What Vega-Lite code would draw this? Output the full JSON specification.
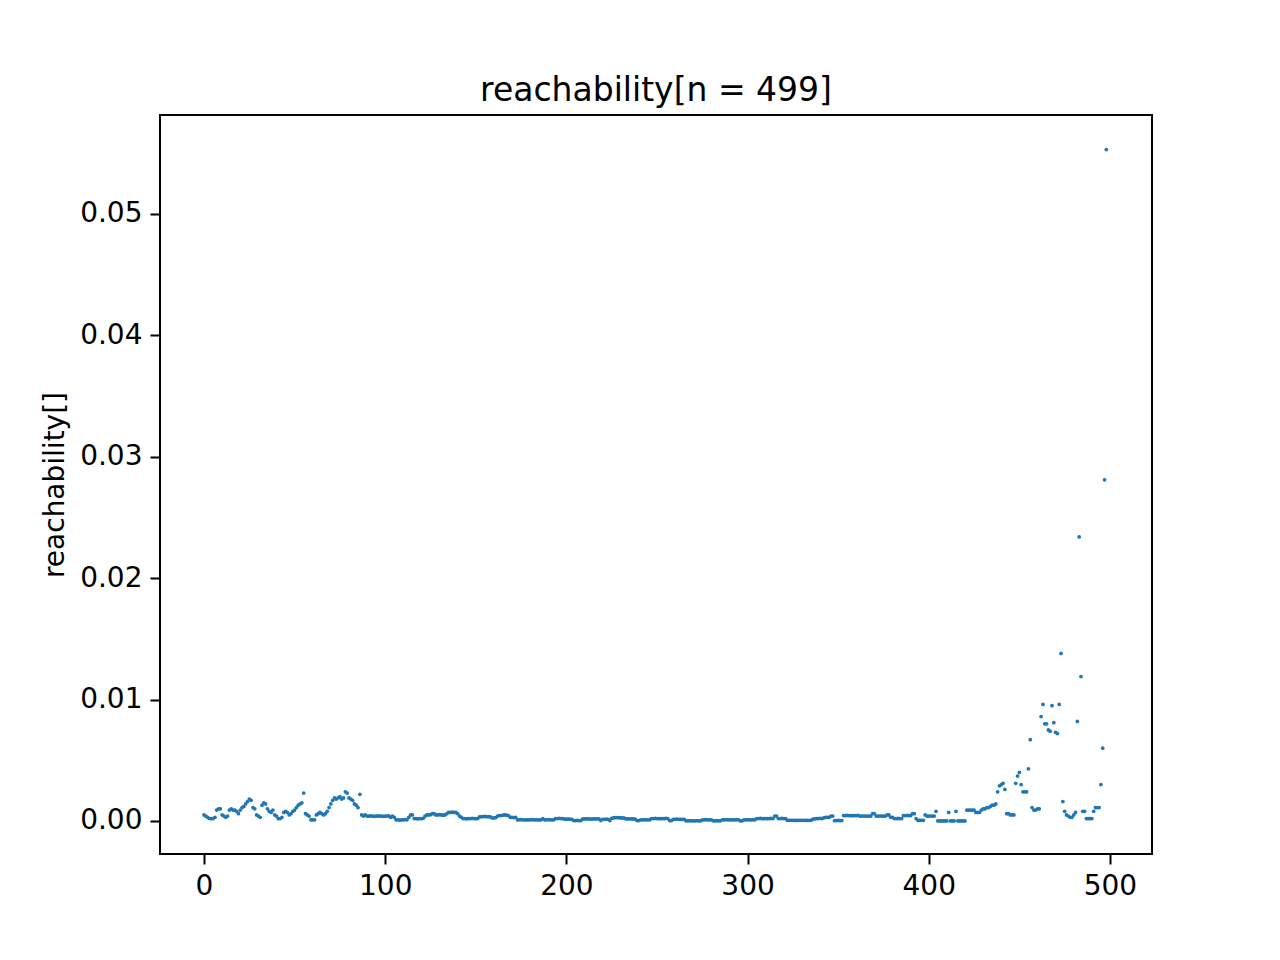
{
"$schema": "https://vega.github.io/schema/vega-lite/v6.json",
"width": 992, "height": 739,
"autosize": {"type": "none"},
"padding": {"left": 160, "top": 115, "right": 128, "bottom": 106},
"background": "white",
"title": {"text": "reachability[n = 499]", "font": "DejaVu Sans", "fontSize": 33, "fontWeight": "normal", "color": "black", "offset": 7},
"config": {"view": {"stroke": "black", "strokeWidth": 2}},
"data": {"values": [
{"x":0,"y":0.0005},{"x":1,"y":0.0004},{"x":2,"y":0.0003},{"x":3,"y":0.0002},{"x":4,"y":0.0002},{"x":5,"y":0.0002},{"x":6,"y":0.0003},{"x":7,"y":0.0009},{"x":8,"y":0.001},{"x":9,"y":0.001},
{"x":10,"y":0.0005},{"x":11,"y":0.0004},{"x":12,"y":0.0003},{"x":13,"y":0.0004},{"x":14,"y":0.0009},{"x":15,"y":0.001},{"x":16,"y":0.0009},{"x":17,"y":0.0009},{"x":18,"y":0.0008},{"x":19,"y":0.0006},
{"x":20,"y":0.0009},{"x":21,"y":0.0011},{"x":22,"y":0.0012},{"x":23,"y":0.0014},{"x":24,"y":0.0016},{"x":25,"y":0.0018},{"x":26,"y":0.0017},{"x":27,"y":0.0011},{"x":28,"y":0.001},{"x":29,"y":0.0005},
{"x":30,"y":0.0004},{"x":31,"y":0.0003},{"x":32,"y":0.0013},{"x":33,"y":0.0015},{"x":34,"y":0.0014},{"x":35,"y":0.001},{"x":36,"y":0.0008},{"x":37,"y":0.0007},{"x":38,"y":0.0009},{"x":39,"y":0.0005},
{"x":40,"y":0.0004},{"x":41,"y":0.0002},{"x":42,"y":0.0002},{"x":43,"y":0.0003},{"x":44,"y":0.0007},{"x":45,"y":0.0008},{"x":46,"y":0.0007},{"x":47,"y":0.0005},{"x":48,"y":0.0006},{"x":49,"y":0.0008},
{"x":50,"y":0.0009},{"x":51,"y":0.0011},{"x":52,"y":0.0013},{"x":53,"y":0.0014},{"x":54,"y":0.0015},{"x":55,"y":0.0023},{"x":56,"y":0.0006},{"x":57,"y":0.0005},{"x":58,"y":0.0004},{"x":59,"y":0.0001},
{"x":60,"y":0.0001},{"x":61,"y":0.0001},{"x":62,"y":0.0005},{"x":63,"y":0.0006},{"x":64,"y":0.0007},{"x":65,"y":0.0006},{"x":66,"y":0.0005},{"x":67,"y":0.0006},{"x":68,"y":0.0008},{"x":69,"y":0.0011},
{"x":70,"y":0.0014},{"x":71,"y":0.0017},{"x":72,"y":0.0019},{"x":73,"y":0.0018},{"x":74,"y":0.0019},{"x":75,"y":0.002},{"x":76,"y":0.0018},{"x":77,"y":0.0019},{"x":78,"y":0.0024},{"x":79,"y":0.0023},
{"x":80,"y":0.0019},{"x":81,"y":0.0018},{"x":82,"y":0.0017},{"x":83,"y":0.0014},{"x":84,"y":0.0013},{"x":85,"y":0.0011},{"x":86,"y":0.0022},{"x":87,"y":0.0005},{"x":88,"y":0.0004},{"x":89,"y":0.0005},
{"x":90,"y":0.0004},{"x":91,"y":0.0004},{"x":92,"y":0.00042},{"x":93,"y":0.0004},{"x":94,"y":0.00038},{"x":95,"y":0.0004},{"x":96,"y":0.00042},{"x":97,"y":0.0004},{"x":98,"y":0.0004},{"x":99,"y":0.00038},
{"x":100,"y":0.0004},{"x":101,"y":0.0004},{"x":102,"y":0.00042},{"x":103,"y":0.0003},{"x":104,"y":0.0004},{"x":105,"y":0.0003},{"x":106,"y":0.0001},{"x":107,"y":0.0001},{"x":108,"y":0.00008},{"x":109,"y":0.0001},
{"x":110,"y":0.0001},{"x":111,"y":0.00012},{"x":112,"y":0.0001},{"x":113,"y":0.0003},{"x":114,"y":0.0005},{"x":115,"y":0.0005},{"x":116,"y":0.0002},{"x":117,"y":0.0002},{"x":118,"y":0.00018},{"x":119,"y":0.0002},
{"x":120,"y":0.0002},{"x":121,"y":0.00022},{"x":122,"y":0.0004},{"x":123,"y":0.0005},{"x":124,"y":0.0005},{"x":125,"y":0.00052},{"x":126,"y":0.0006},{"x":127,"y":0.0006},{"x":128,"y":0.0005},{"x":129,"y":0.0005},
{"x":130,"y":0.00052},{"x":131,"y":0.0005},{"x":132,"y":0.00048},{"x":133,"y":0.0005},{"x":134,"y":0.0006},{"x":135,"y":0.0007},{"x":136,"y":0.0007},{"x":137,"y":0.00072},{"x":138,"y":0.0007},{"x":139,"y":0.0007},
{"x":140,"y":0.0006},{"x":141,"y":0.0004},{"x":142,"y":0.0003},{"x":143,"y":0.0002},{"x":144,"y":0.0002},{"x":145,"y":0.00018},{"x":146,"y":0.0002},{"x":147,"y":0.0002},{"x":148,"y":0.00022},{"x":149,"y":0.0002},
{"x":150,"y":0.0002},{"x":151,"y":0.0002},{"x":152,"y":0.00033},{"x":153,"y":0.00035},{"x":154,"y":0.00035},{"x":155,"y":0.00037},{"x":156,"y":0.00035},{"x":157,"y":0.00035},{"x":158,"y":0.00033},{"x":159,"y":0.00025},
{"x":160,"y":0.00025},{"x":161,"y":0.00027},{"x":162,"y":0.0004},{"x":163,"y":0.00045},{"x":164,"y":0.00045},{"x":165,"y":0.00048},{"x":166,"y":0.0005},{"x":167,"y":0.00048},{"x":168,"y":0.00045},{"x":169,"y":0.0003},
{"x":170,"y":0.0003},{"x":171,"y":0.00028},{"x":172,"y":0.0003},{"x":173,"y":0.0001},{"x":174,"y":0.0001},{"x":175,"y":0.00012},{"x":176,"y":0.0001},{"x":177,"y":0.0001},{"x":178,"y":0.00009},{"x":179,"y":0.0001},
{"x":180,"y":0.0001},{"x":181,"y":0.00012},{"x":182,"y":0.0001},{"x":183,"y":0.0001},{"x":184,"y":0.0001},{"x":185,"y":0.00009},{"x":186,"y":0.0001},{"x":187,"y":0.0002},{"x":188,"y":0.0001},{"x":189,"y":0.0001},
{"x":190,"y":0.00012},{"x":191,"y":0.0001},{"x":192,"y":0.0001},{"x":193,"y":0.0001},{"x":194,"y":0.0002},{"x":195,"y":0.0002},{"x":196,"y":0.00022},{"x":197,"y":0.0002},{"x":198,"y":0.0002},{"x":199,"y":0.00015},
{"x":200,"y":0.00015},{"x":201,"y":0.00016},{"x":202,"y":0.00015},{"x":203,"y":0.00014},{"x":204,"y":0.00003},{"x":205,"y":0.00003},{"x":206,"y":0.00004},{"x":207,"y":0.00003},{"x":208,"y":0.00003},{"x":209,"y":0.00017},
{"x":210,"y":0.00017},{"x":211,"y":0.00018},{"x":212,"y":0.00017},{"x":213,"y":0.00017},{"x":214,"y":0.00016},{"x":215,"y":0.00017},{"x":216,"y":0.00018},{"x":217,"y":0.00017},{"x":218,"y":0.00017},{"x":219,"y":0.00003},
{"x":220,"y":0.00014},{"x":221,"y":0.00014},{"x":222,"y":0.00015},{"x":223,"y":0.00014},{"x":224,"y":0.00003},{"x":225,"y":0.00022},{"x":226,"y":0.00025},{"x":227,"y":0.00027},{"x":228,"y":0.00028},{"x":229,"y":0.00027},
{"x":230,"y":0.00025},{"x":231,"y":0.00025},{"x":232,"y":0.00024},{"x":233,"y":0.00017},{"x":234,"y":0.00017},{"x":235,"y":0.00018},{"x":236,"y":0.00017},{"x":237,"y":0.00017},{"x":238,"y":0.00016},{"x":239,"y":0.00003},
{"x":240,"y":0.00003},{"x":241,"y":0.0001},{"x":242,"y":0.0001},{"x":243,"y":0.00011},{"x":244,"y":0.0001},{"x":245,"y":0.0001},{"x":246,"y":0.0001},{"x":247,"y":0.0002},{"x":248,"y":0.0002},{"x":249,"y":0.00021},
{"x":250,"y":0.0002},{"x":251,"y":0.0002},{"x":252,"y":0.00019},{"x":253,"y":0.0002},{"x":254,"y":0.0002},{"x":255,"y":0.00021},{"x":256,"y":0.0002},{"x":257,"y":0.00003},{"x":258,"y":0.00003},{"x":259,"y":0.00014},
{"x":260,"y":0.00014},{"x":261,"y":0.00015},{"x":262,"y":0.00014},{"x":263,"y":0.00014},{"x":264,"y":0.00013},{"x":265,"y":0.00014},{"x":266,"y":0.00001},{"x":267,"y":0.00001},{"x":268,"y":0.00002},{"x":269,"y":0.00001},
{"x":270,"y":0.00001},{"x":271,"y":0.00001},{"x":272,"y":0.00002},{"x":273,"y":0.00001},{"x":274,"y":0.00001},{"x":275,"y":0.0001},{"x":276,"y":0.0001},{"x":277,"y":0.00011},{"x":278,"y":0.0001},{"x":279,"y":0.0001},
{"x":280,"y":0.0001},{"x":281,"y":0.00001},{"x":282,"y":0.00001},{"x":283,"y":0.00002},{"x":284,"y":0.00001},{"x":285,"y":0.00001},{"x":286,"y":0.0001},{"x":287,"y":0.0001},{"x":288,"y":0.00011},{"x":289,"y":0.0001},
{"x":290,"y":0.0001},{"x":291,"y":0.00009},{"x":292,"y":0.0001},{"x":293,"y":0.0001},{"x":294,"y":0.00011},{"x":295,"y":0.0001},{"x":296,"y":0.00001},{"x":297,"y":0.00001},{"x":298,"y":0.0001},{"x":299,"y":0.0001},
{"x":300,"y":0.00011},{"x":301,"y":0.0001},{"x":302,"y":0.0001},{"x":303,"y":0.0001},{"x":304,"y":0.0001},{"x":305,"y":0.0002},{"x":306,"y":0.0002},{"x":307,"y":0.00021},{"x":308,"y":0.0002},{"x":309,"y":0.0002},
{"x":310,"y":0.00019},{"x":311,"y":0.0002},{"x":312,"y":0.0002},{"x":313,"y":0.00021},{"x":314,"y":0.0002},{"x":315,"y":0.0004},{"x":316,"y":0.0004},{"x":317,"y":0.0002},{"x":318,"y":0.0002},{"x":319,"y":0.00021},
{"x":320,"y":0.0002},{"x":321,"y":0.0002},{"x":322,"y":0.00005},{"x":323,"y":0.00005},{"x":324,"y":0.00006},{"x":325,"y":0.00005},{"x":326,"y":0.00005},{"x":327,"y":0.00004},{"x":328,"y":0.00005},{"x":329,"y":0.00005},
{"x":330,"y":0.00006},{"x":331,"y":0.00005},{"x":332,"y":0.00005},{"x":333,"y":0.00004},{"x":334,"y":0.00005},{"x":335,"y":0.00005},{"x":336,"y":0.00015},{"x":337,"y":0.00017},{"x":338,"y":0.0002},{"x":339,"y":0.0002},
{"x":340,"y":0.00022},{"x":341,"y":0.0002},{"x":342,"y":0.00025},{"x":343,"y":0.0003},{"x":344,"y":0.0003},{"x":345,"y":0.0003},{"x":346,"y":0.0004},{"x":347,"y":0.0004},{"x":348,"y":0.00003},{"x":349,"y":0.00003},
{"x":350,"y":0.00004},{"x":351,"y":0.00003},{"x":352,"y":0.00003},{"x":353,"y":0.00045},{"x":354,"y":0.00045},{"x":355,"y":0.00046},{"x":356,"y":0.00045},{"x":357,"y":0.00045},{"x":358,"y":0.00044},{"x":359,"y":0.00045},
{"x":360,"y":0.00045},{"x":361,"y":0.00046},{"x":362,"y":0.0004},{"x":363,"y":0.0004},{"x":364,"y":0.00041},{"x":365,"y":0.0004},{"x":366,"y":0.0004},{"x":367,"y":0.00039},{"x":368,"y":0.0004},{"x":369,"y":0.0006},
{"x":370,"y":0.0006},{"x":371,"y":0.0004},{"x":372,"y":0.0004},{"x":373,"y":0.00041},{"x":374,"y":0.0004},{"x":375,"y":0.0004},{"x":376,"y":0.0004},{"x":377,"y":0.0005},{"x":378,"y":0.0005},{"x":379,"y":0.0003},
{"x":380,"y":0.0003},{"x":381,"y":0.0002},{"x":382,"y":0.0002},{"x":383,"y":0.00021},{"x":384,"y":0.0002},{"x":385,"y":0.0002},{"x":386,"y":0.00045},{"x":387,"y":0.00045},{"x":388,"y":0.00046},{"x":389,"y":0.00045},
{"x":390,"y":0.00045},{"x":391,"y":0.0006},{"x":392,"y":0.0006},{"x":393,"y":0.0002},{"x":394,"y":0.00005},{"x":395,"y":0.00005},{"x":396,"y":0.00006},{"x":397,"y":0.00005},{"x":398,"y":0.0005},{"x":399,"y":0.0004},
{"x":400,"y":0.0004},{"x":401,"y":0.00041},{"x":402,"y":0.0004},{"x":403,"y":0.0004},{"x":404,"y":0.0008},{"x":405,"y":0.0},{"x":406,"y":0.0},{"x":407,"y":0.0},{"x":408,"y":0.0},{"x":409,"y":0.0},
{"x":410,"y":0.0},{"x":411,"y":0.0007},{"x":412,"y":0.0},{"x":413,"y":0.0},{"x":414,"y":0.0},{"x":415,"y":0.0008},{"x":416,"y":0.0},{"x":417,"y":0.0},{"x":418,"y":0.0},{"x":419,"y":0.0},
{"x":420,"y":0.0},{"x":421,"y":0.0009},{"x":422,"y":0.0009},{"x":423,"y":0.0009},{"x":424,"y":0.0009},{"x":425,"y":0.0009},{"x":426,"y":0.0007},{"x":427,"y":0.0007},{"x":428,"y":0.0007},{"x":429,"y":0.0009},
{"x":430,"y":0.001},{"x":431,"y":0.001},{"x":432,"y":0.0011},{"x":433,"y":0.0011},{"x":434,"y":0.0012},{"x":435,"y":0.0013},{"x":436,"y":0.0013},{"x":437,"y":0.0014},{"x":438,"y":0.0024},{"x":439,"y":0.0029},
{"x":440,"y":0.003},{"x":441,"y":0.0031},{"x":442,"y":0.0026},{"x":443,"y":0.0006},{"x":444,"y":0.0006},{"x":445,"y":0.0005},{"x":446,"y":0.0005},{"x":447,"y":0.0005},{"x":448,"y":0.0031},{"x":449,"y":0.0037},
{"x":450,"y":0.004},{"x":451,"y":0.003},{"x":452,"y":0.0024},{"x":453,"y":0.0024},{"x":454,"y":0.0024},{"x":455,"y":0.0043},{"x":456,"y":0.0067},{"x":457,"y":0.0011},{"x":458,"y":0.0009},{"x":459,"y":0.0009},
{"x":460,"y":0.001},{"x":461,"y":0.001},{"x":462,"y":0.0086},{"x":463,"y":0.0096},{"x":464,"y":0.008},{"x":465,"y":0.008},{"x":466,"y":0.0075},{"x":467,"y":0.0074},{"x":468,"y":0.0095},{"x":469,"y":0.0081},
{"x":470,"y":0.0073},{"x":471,"y":0.0072},{"x":472,"y":0.0096},{"x":473,"y":0.0138},{"x":474,"y":0.0016},{"x":475,"y":0.0008},{"x":476,"y":0.0005},{"x":477,"y":0.0004},{"x":478,"y":0.0003},{"x":479,"y":0.0003},
{"x":480,"y":0.0005},{"x":481,"y":0.0007},{"x":482,"y":0.0082},{"x":483,"y":0.0234},{"x":484,"y":0.0119},{"x":485,"y":0.0008},{"x":486,"y":0.0008},{"x":487,"y":0.0002},{"x":488,"y":0.0002},{"x":489,"y":0.0002},
{"x":490,"y":0.0002},{"x":491,"y":0.0008},{"x":492,"y":0.0011},{"x":493,"y":0.0011},{"x":494,"y":0.0011},{"x":495,"y":0.003},{"x":496,"y":0.006},{"x":497,"y":0.0281},{"x":498,"y":0.0553}
]},
"mark": {"type": "circle", "size": 14, "color": "#1f77b4", "opacity": 1},
"encoding": {
"x": {"field": "x", "type": "quantitative", "scale": {"domain": [-24.3, 523.2], "nice": false, "zero": false},
"axis": {"values": [0,100,200,300,400,500], "format": "d", "title": null, "grid": false, "domain": false, "tickColor": "black", "tickWidth": 2, "tickSize": 10, "labelFont": "DejaVu Sans", "labelFontSize": 28, "labelColor": "black", "labelPadding": 8, "labelFlush": false}},
"y": {"field": "y", "type": "quantitative", "scale": {"domain": [-0.00272, 0.05815], "nice": false, "zero": false},
"axis": {"values": [0,0.01,0.02,0.03,0.04,0.05], "format": ".2f", "title": "reachability[]", "titleFont": "DejaVu Sans", "titleFontSize": 28, "titleFontWeight": "normal", "titleColor": "black", "titlePadding": 10, "grid": false, "domain": false, "tickColor": "black", "tickWidth": 2, "tickSize": 10, "labelFont": "DejaVu Sans", "labelFontSize": 28, "labelColor": "black", "labelPadding": 8, "labelFlush": false}}
}
}
